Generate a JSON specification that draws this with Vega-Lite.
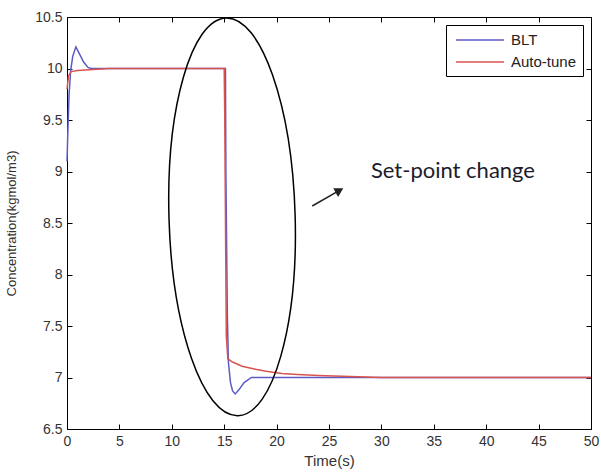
{
  "$schema": "https://vega.github.io/schema/vega-lite/v6.json",
  "width": 524,
  "height": 412,
  "padding": {"left": 5, "top": 10, "right": 9, "bottom": 2},
  "background": "white",
  "config": {
    "view": {"stroke": "black", "strokeWidth": 1},
    "axis": {
      "domain": false,
      "grid": false,
      "tickColor": "black",
      "tickSize": -5,
      "labelFont": "Liberation Sans",
      "labelFontSize": 14,
      "labelColor": "#333",
      "labelPadding": 10,
      "titleFont": "Liberation Sans",
      "titleFontSize": 15,
      "titleFontWeight": "normal",
      "titleColor": "#333"
    }
  },
  "datasets": {
    "series": [
      {"series": "BLT", "t": 0, "v": 9.1},
      {"series": "BLT", "t": 0.1, "v": 9.45},
      {"series": "BLT", "t": 0.2, "v": 9.75},
      {"series": "BLT", "t": 0.35, "v": 9.98},
      {"series": "BLT", "t": 0.55, "v": 10.12},
      {"series": "BLT", "t": 0.85, "v": 10.21},
      {"series": "BLT", "t": 1.2, "v": 10.14},
      {"series": "BLT", "t": 1.6, "v": 10.06},
      {"series": "BLT", "t": 2.0, "v": 10.01},
      {"series": "BLT", "t": 2.3, "v": 10.0},
      {"series": "BLT", "t": 15.12, "v": 10.0},
      {"series": "BLT", "t": 15.16, "v": 9.0},
      {"series": "BLT", "t": 15.3, "v": 7.6},
      {"series": "BLT", "t": 15.4, "v": 7.15},
      {"series": "BLT", "t": 15.6, "v": 6.95},
      {"series": "BLT", "t": 15.8, "v": 6.87},
      {"series": "BLT", "t": 16.05, "v": 6.84},
      {"series": "BLT", "t": 16.4, "v": 6.88},
      {"series": "BLT", "t": 16.9, "v": 6.95},
      {"series": "BLT", "t": 17.6, "v": 7.0},
      {"series": "BLT", "t": 50, "v": 7.0},
      {"series": "Auto-tune", "t": 0, "v": 9.8},
      {"series": "Auto-tune", "t": 0.15, "v": 9.93},
      {"series": "Auto-tune", "t": 0.4, "v": 9.97},
      {"series": "Auto-tune", "t": 1.0, "v": 9.98},
      {"series": "Auto-tune", "t": 2.5, "v": 9.99},
      {"series": "Auto-tune", "t": 4.0, "v": 10.0},
      {"series": "Auto-tune", "t": 15.0, "v": 10.0},
      {"series": "Auto-tune", "t": 15.05, "v": 9.56},
      {"series": "Auto-tune", "t": 15.2, "v": 7.4},
      {"series": "Auto-tune", "t": 15.35, "v": 7.18},
      {"series": "Auto-tune", "t": 15.8, "v": 7.15},
      {"series": "Auto-tune", "t": 16.7, "v": 7.11},
      {"series": "Auto-tune", "t": 18.0, "v": 7.08},
      {"series": "Auto-tune", "t": 19.0, "v": 7.06},
      {"series": "Auto-tune", "t": 20.5, "v": 7.04},
      {"series": "Auto-tune", "t": 22.0, "v": 7.03},
      {"series": "Auto-tune", "t": 24.0, "v": 7.02},
      {"series": "Auto-tune", "t": 27.0, "v": 7.01},
      {"series": "Auto-tune", "t": 30.0, "v": 7.0},
      {"series": "Auto-tune", "t": 50, "v": 7.0}
    ],
    "ellipse": [{"t": 15.75, "v": 8.56}],
    "arrow": [{"t": 23.4, "v": 8.665, "t2": 26.0, "v2": 8.816}],
    "label": [{"t": 29.0, "v": 8.94, "text": "Set-point change"}]
  },
  "layer": [
    {
      "data": {"name": "series"},
      "mark": {"type": "line", "strokeWidth": 1.5},
      "encoding": {
        "x": {
          "field": "t", "type": "quantitative",
          "scale": {"domain": [0, 50], "nice": false},
          "axis": {"title": "Time(s)", "values": [0, 5, 10, 15, 20, 25, 30, 35, 40, 45, 50], "labelFlush": false, "labelOverlap": false, "titlePadding": 5}
        },
        "y": {
          "field": "v", "type": "quantitative",
          "scale": {"domain": [6.5, 10.5], "nice": false, "zero": false},
          "axis": {"title": "Concentration(kgmol/m3)", "titleFontSize": 13, "values": [6.5, 7, 7.5, 8, 8.5, 9, 9.5, 10, 10.5], "format": "~g", "labelOverlap": false, "labelFlush": false, "titlePadding": 16}
        },
        "color": {
          "field": "series", "type": "nominal",
          "scale": {"domain": ["BLT", "Auto-tune"], "range": ["#5b5bc8", "#d9534f"]},
          "legend": {
            "orient": "none", "legendX": 379, "legendY": 8, "title": null,
            "symbolType": "M-3,0L3,0", "symbolSize": 256, "symbolStrokeWidth": 1.5,
            "labelFont": "Liberation Sans", "labelFontSize": 15, "labelColor": "#222",
            "strokeColor": "black", "fillColor": "white", "padding": 6, "rowPadding": 5,
            "symbolOffset": 19, "labelOffset": 22
          }
        }
      }
    },
    {
      "data": {"name": "series"},
      "mark": {"type": "point", "opacity": 0},
      "encoding": {
        "x": {"field": "t", "type": "quantitative", "axis": {"orient": "top", "labels": false, "title": null, "values": [0, 5, 10, 15, 20, 25, 30, 35, 40, 45, 50]}},
        "y": {"field": "v", "type": "quantitative", "axis": {"orient": "right", "labels": false, "title": null, "values": [6.5, 7, 7.5, 8, 8.5, 9, 9.5, 10, 10.5]}}
      }
    },
    {
      "data": {"name": "ellipse"},
      "mark": {"type": "point", "shape": "M0,-1A0.317,1,0,1,1,0,1A0.317,1,0,1,1,0,-1Z", "size": 158404, "filled": false, "stroke": "black", "strokeWidth": 1.5, "opacity": 1, "angle": 358.3},
      "encoding": {
        "x": {"field": "t", "type": "quantitative", "axis": null},
        "y": {"field": "v", "type": "quantitative", "axis": null}
      }
    },
    {
      "data": {"name": "arrow"},
      "mark": {"type": "rule", "color": "#222", "strokeWidth": 1.5},
      "encoding": {
        "x": {"field": "t", "type": "quantitative", "axis": null},
        "y": {"field": "v", "type": "quantitative", "axis": null},
        "x2": {"field": "t2"},
        "y2": {"field": "v2"}
      }
    },
    {
      "data": {"name": "arrow"},
      "mark": {"type": "point", "shape": "triangle-up", "filled": true, "color": "#222", "size": 100, "angle": 61, "opacity": 1},
      "encoding": {
        "x": {"field": "t2", "type": "quantitative", "axis": null},
        "y": {"field": "v2", "type": "quantitative", "axis": null}
      }
    },
    {
      "data": {"name": "label"},
      "mark": {"type": "text", "font": "Lato", "fontSize": 22, "color": "#1c1c2c", "align": "left", "baseline": "alphabetic"},
      "encoding": {
        "x": {"field": "t", "type": "quantitative", "axis": null},
        "y": {"field": "v", "type": "quantitative", "axis": null},
        "text": {"field": "text"}
      }
    }
  ],
  "resolve": {"axis": {"x": "independent", "y": "independent"}}
}
